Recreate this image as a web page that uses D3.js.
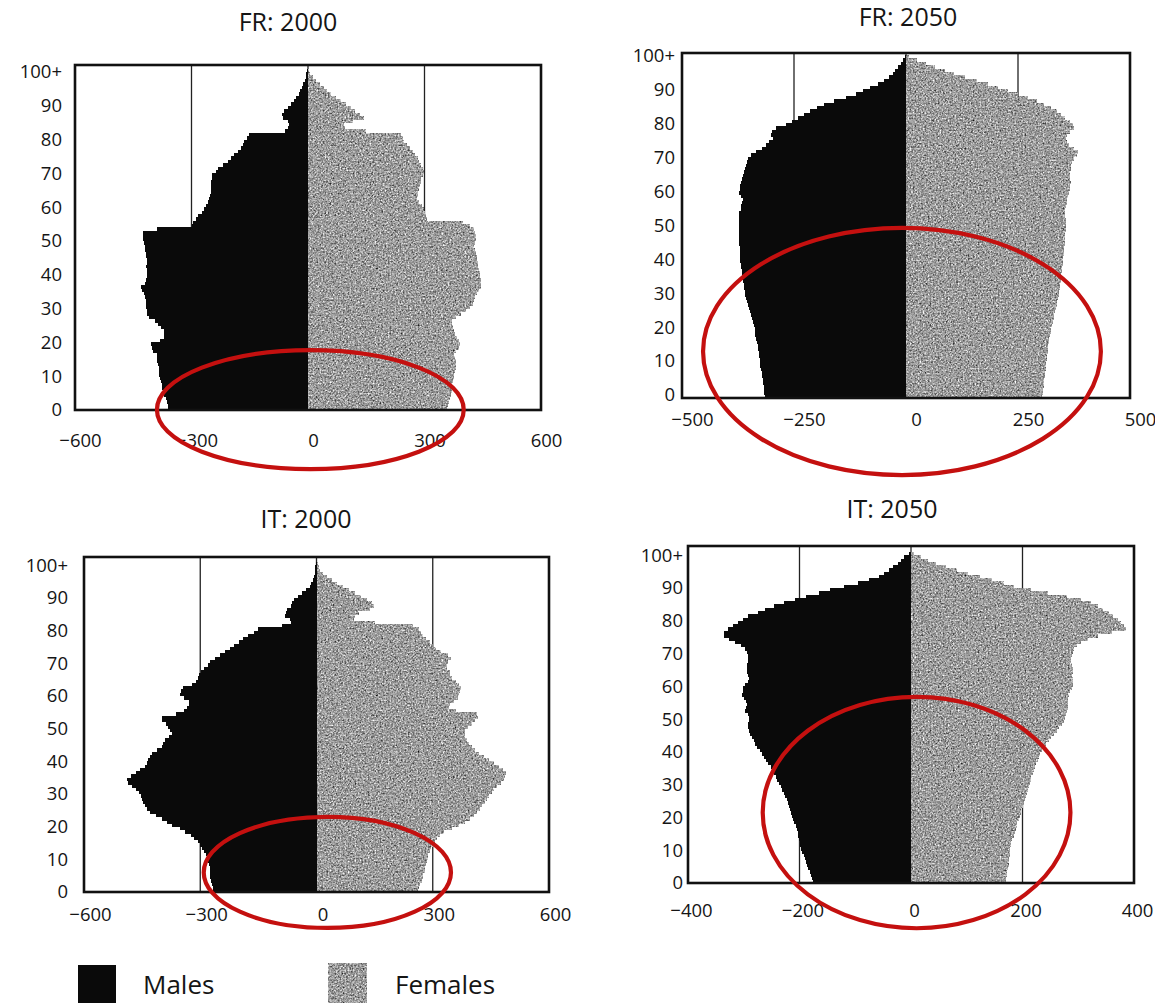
<!DOCTYPE html>
<html><head><meta charset="utf-8">
<script src="https://cdn.jsdelivr.net/npm/d3@7"></script>
<style>
body{margin:0;background:#fff}
text{font-family:"Open Sans","DejaVu Sans",sans-serif;fill:#151515}
</style>
</head><body>
<svg id="c" width="1155" height="1003"></svg>
<script>
// ---- categories ----
const ages = d3.range(0, 101);               // single years 0 .. 100+
const yTickValues = [0,10,20,30,40,50,60,70,80,90,100];
const yTickLabels = ["0","10","20","30","40","50","60","70","80","90","100+"];
const xTicks600 = [-600,-300,0,300,600];
const xTicks500 = [-500,-250,0,250,500];
const xTicks400 = [-400,-200,0,200,400];
const seriesNames = ["Males","Females"];

// ---- values (thousands), age 0 .. 100+ ----
const frMales2000 = [
360,361,362,365,370,373,375,375,378,381,
383,384,383,385,388,389,390,400,403,405,
380,371,370,372,378,385,395,410,414,415,
416,417,418,420,422,428,430,420,416,415,
414,415,416,414,415,416,418,420,421,422,
424,425,425,390,300,296,289,283,273,268,
262,258,254,252,250,250,250,249,248,246,
238,232,220,205,198,190,180,172,168,165,
158,152,60,52,50,52,64,66,62,52,
44,36,30,24,20,16,12,9,6,4,2];
const frFemales2000 = [
358,360,363,366,368,370,371,372,374,376,
377,378,380,381,380,378,377,382,388,391,
390,384,378,375,373,372,372,380,395,408,
418,424,428,431,434,440,445,446,446,444,
442,440,438,437,435,434,432,430,428,430,
432,432,430,428,418,400,306,303,301,299,
294,285,281,282,284,286,288,290,292,295,
298,296,292,287,282,276,270,262,254,248,
245,240,150,95,92,115,145,135,122,110,
98,85,72,60,50,40,30,20,12,6,3];
const frMales2050 = [
315,316,317,318,319,320,321,322,324,325,
326,327,328,329,330,331,332,334,336,337,
338,340,342,344,346,348,350,352,355,357,
359,360,361,362,363,365,366,367,368,369,
370,370,370,371,371,372,372,372,372,373,
373,373,373,373,372,368,368,366,364,368,
372,371,370,368,366,364,362,360,358,356,
352,345,335,322,312,305,296,302,298,290,
268,255,242,228,214,198,182,160,135,112,
95,80,62,48,38,30,24,18,12,7,3];
const frFemales2050 = [
304,305,306,307,308,309,310,311,312,312,
313,314,315,316,317,318,319,320,322,323,
324,326,328,330,331,333,335,336,338,340,
341,342,343,344,345,346,347,348,349,350,
350,351,352,353,353,354,355,355,356,357,
357,357,357,356,356,356,358,359,360,362,
364,366,367,368,367,365,367,369,368,370,
375,382,385,374,364,360,358,360,366,376,
372,366,356,346,336,324,308,292,272,250,
228,205,182,158,132,108,86,64,44,24,6];
const itMales2000 = [
267,268,270,273,275,276,276,276,277,279,
282,286,291,296,300,305,315,324,339,353,
372,386,400,415,429,438,443,448,450,453,
458,467,476,486,490,478,467,455,443,438,
434,430,424,412,400,395,390,380,374,378,
382,388,400,400,362,343,333,330,330,343,
352,350,345,322,310,306,303,298,290,281,
276,262,248,236,224,212,200,190,178,162,
150,90,66,68,82,80,75,66,62,58,
48,38,26,18,13,10,7,5,4,3,2];
const itFemales2000 = [
262,265,268,271,274,276,279,281,283,285,
287,289,292,296,302,306,310,318,329,350,
367,382,395,406,414,421,428,435,440,446,
452,458,466,475,483,486,488,480,470,458,
445,432,420,410,400,393,388,384,382,383,
390,400,410,416,414,360,343,345,355,365,
368,370,372,368,360,350,345,345,338,336,
340,346,340,322,308,300,292,283,276,270,
265,250,150,98,100,110,138,148,142,130,
114,100,84,68,54,40,28,18,10,6,3];
const itMales2050 = [
176,178,180,182,184,186,188,190,192,195,
198,199,200,201,202,203,204,206,209,211,
213,215,217,219,221,223,226,228,231,234,
237,240,243,246,249,252,256,260,263,267,
271,276,279,282,285,288,290,292,292,291,
291,292,297,296,294,296,300,303,302,301,
298,293,290,292,294,295,294,293,293,293,
294,298,305,315,326,336,335,328,320,310,
302,293,275,262,245,228,208,188,165,145,
120,95,75,58,48,40,32,24,18,12,4];
const itFemales2050 = [
170,171,172,173,174,175,175,176,177,177,
178,179,180,182,184,186,188,190,191,193,
195,197,198,200,202,204,206,208,209,211,
213,215,216,218,220,222,224,227,229,232,
235,238,243,248,252,257,262,266,270,274,
277,278,280,281,281,282,282,283,285,288,
290,291,290,289,290,290,288,287,287,288,
290,293,298,305,318,335,360,385,382,376,
371,363,355,345,335,323,305,280,245,215,
185,166,145,124,103,82,62,45,30,18,5];

// ---- annotation ellipses, in data units: [centre value, centre age, half-width value, half-height years] ----
const ellipseFR2000 = [6, 0.1, 395, 17.6];
const ellipseFR2050 = [-9, 13.7, 444, 36.4];
const ellipseIT2000 = [28, 6, 319, 17];
const ellipseIT2050 = [10, 21.5, 276, 35.3];

const svg = d3.select("#c");
const defs = svg.append("defs");
const f = defs.append("filter").attr("id","speckle")
  .attr("x","0").attr("y","0").attr("width","1").attr("height","1")
  .attr("color-interpolation-filters","sRGB");
f.append("feTurbulence").attr("type","fractalNoise").attr("baseFrequency","0.6")
  .attr("numOctaves","2").attr("seed","7").attr("result","noise");
f.append("feColorMatrix").attr("in","noise").attr("type","matrix")
  .attr("values","0.33 0.33 0.33 0 0  0.33 0.33 0.33 0 0  0.33 0.33 0.33 0 0  0 0 0 0 1")
  .attr("result","grey");
const ct = f.append("feComponentTransfer").attr("in","grey").attr("result","grey2");
["feFuncR","feFuncG","feFuncB"].forEach(n=>ct.append(n).attr("type","linear").attr("slope","1.9").attr("intercept","-0.33"));
f.append("feComposite").attr("in","grey2").attr("in2","SourceGraphic").attr("operator","in");

const maleFill = "#0a0a0a";
const femaleFill = "#9c9c9c";
const red = "#c4100f";

const panels = [
  {title:"FR: 2000", m:frMales2000, fm:frFemales2000, ticks:xTicks600, ell:ellipseFR2000,
   xr:[75,541], yb:410, yt:68.6, ft:65, tx:288, ty:31, tickY:447, tickDx:5, ylx:62, yDy:0},
  {title:"FR: 2050", m:frMales2050, fm:frFemales2050, ticks:xTicks500, ell:ellipseFR2050,
   xr:[682,1130], yb:398, yt:55, ft:53, tx:908, ty:26, tickY:426, tickDx:10, ylx:675, yDy:-3},
  {title:"IT: 2000", m:itMales2000, fm:itFemales2000, ticks:xTicks600, ell:ellipseIT2000,
   xr:[84,549], yb:892, yt:562, ft:557, tx:306, ty:528, tickY:921, tickDx:6, ylx:68, yDy:0},
  {title:"IT: 2050", m:itMales2050, fm:itFemales2050, ticks:xTicks400, ell:ellipseIT2050,
   xr:[688,1134], yb:883, yt:552, ft:546, tx:892, ty:518, tickY:917, tickDx:3, ylx:683, yDy:0}
];

panels.forEach(p => {
  const maxV = p.ticks[p.ticks.length-1];
  const x = d3.scaleLinear().domain([-maxV, maxV]).range(p.xr);
  const y = d3.scaleLinear().domain([0, 101]).range([p.yb, p.yt]);
  const g = svg.append("g");

  // vertical grid lines
  g.selectAll("line.grid").data(p.ticks.slice(1,4)).join("line")
    .attr("x1", d=>x(d)).attr("x2", d=>x(d)).attr("y1", p.ft).attr("y2", p.yb)
    .attr("stroke","#222").attr("stroke-width",1.3);

  // males
  g.append("g").selectAll("rect").data(ages).join("rect")
    .attr("x", a => x(-p.m[a])).attr("width", a => x(0) - x(-p.m[a]))
    .attr("y", a => y(a+1)).attr("height", a => y(a) - y(a+1) + 0.4)
    .attr("fill", maleFill).attr("shape-rendering","crispEdges");
  // females
  g.append("g").attr("filter","url(#speckle)").selectAll("rect").data(ages).join("rect")
    .attr("x", x(0)).attr("width", a => x(p.fm[a]) - x(0))
    .attr("y", a => y(a+1)).attr("height", a => y(a) - y(a+1) + 0.4)
    .attr("fill", femaleFill).attr("shape-rendering","crispEdges");

  // frame
  g.append("rect").attr("x", p.xr[0]).attr("y", p.ft)
    .attr("width", p.xr[1]-p.xr[0]).attr("height", p.yb - p.ft)
    .attr("fill","none").attr("stroke","#111").attr("stroke-width",2.6);

  // x axis
  const xa = g.append("g").attr("transform", `translate(0,${p.tickY})`)
    .call(d3.axisBottom(x).tickValues(p.ticks).tickSize(0).tickPadding(0).tickFormat(d3.format("d")));
  xa.select(".domain").remove();
  xa.selectAll("text").attr("y",0).attr("dy",0).attr("dx",p.tickDx)
    .attr("font-size",18.5).attr("font-family",null).style("fill","#151515");

  // y axis
  const ya = g.append("g").attr("transform", `translate(${p.ylx},0)`)
    .call(d3.axisLeft(d3.scaleLinear().domain([0,101]).range([p.yb + p.yDy, p.yt + p.yDy]))
      .tickValues(yTickValues).tickSize(0).tickPadding(0)
      .tickFormat((d,i) => yTickLabels[i]));
  ya.select(".domain").remove();
  ya.selectAll("text").attr("x",0).attr("font-size",18.5).attr("font-family",null).style("fill","#151515");

  // title
  svg.append("text").attr("x", p.tx).attr("y", p.ty).attr("text-anchor","middle")
    .attr("font-size", 25).text(p.title);

  // red annotation ellipse
  const e = p.ell;
  svg.append("ellipse")
    .attr("cx", x(e[0])).attr("cy", y(e[1]))
    .attr("rx", x(e[0]+e[2]) - x(e[0])).attr("ry", y(e[1]) - y(e[1]+e[3]))
    .attr("fill","none").attr("stroke", red).attr("stroke-width", 4.2);
});

// legend
const lg = svg.append("g");
lg.append("rect").attr("x",78).attr("y",965).attr("width",38).attr("height",38).attr("fill",maleFill);
lg.append("g").attr("filter","url(#speckle)").append("rect")
  .attr("x",328).attr("y",963).attr("width",39).attr("height",40).attr("fill",femaleFill);
lg.selectAll("text").data(seriesNames).join("text")
  .attr("x",(d,i)=> i===0 ? 143 : 395).attr("y",994).attr("font-size",26).text(d=>d);
</script>
</body></html>
